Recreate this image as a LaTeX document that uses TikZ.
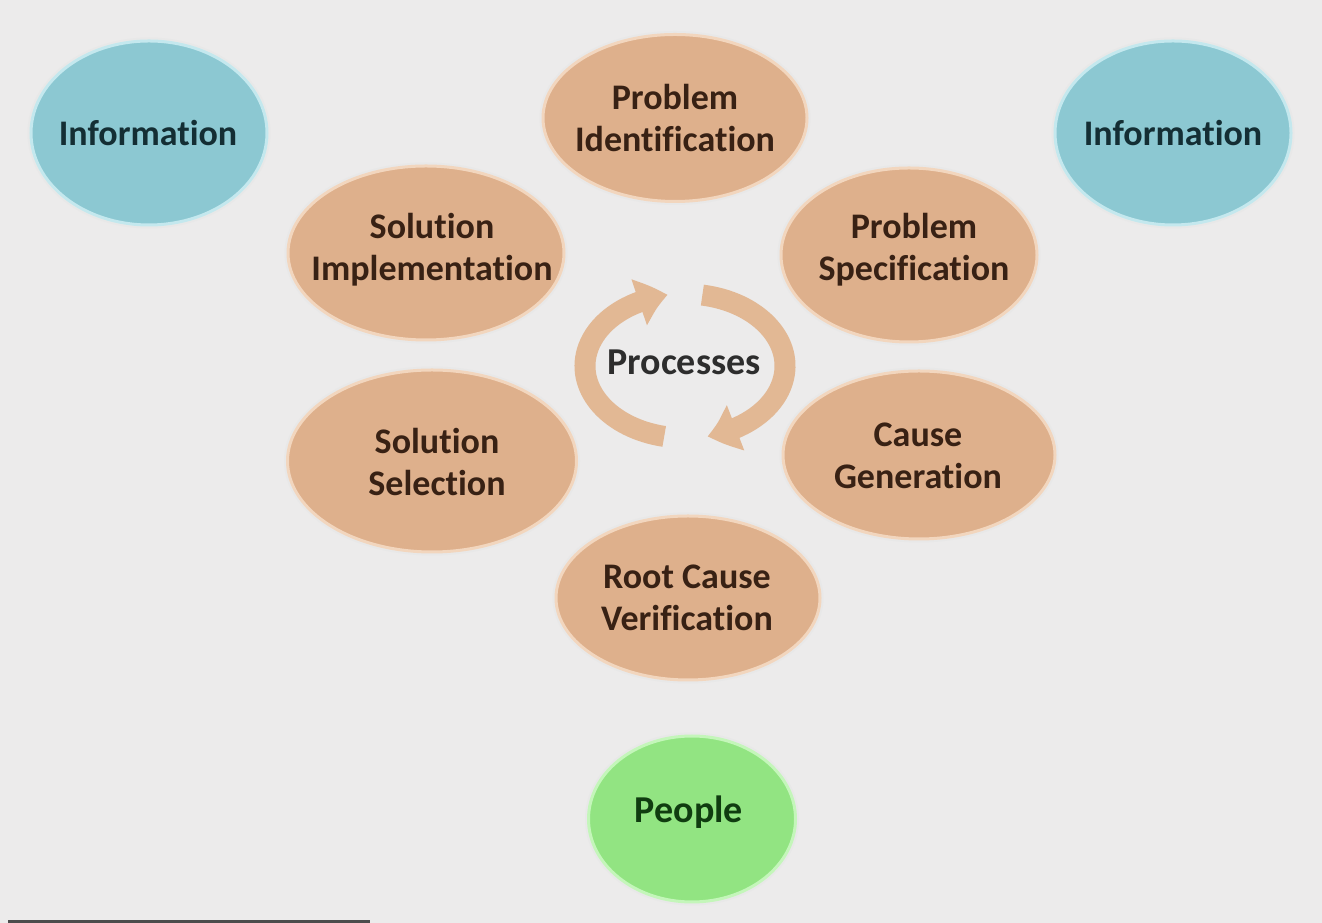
\documentclass[tikz,border=0pt]{standalone}
\usepackage{fontspec}
\setmainfont{Carlito}[Ligatures=NoCommon]
\usetikzlibrary{shapes.geometric,arrows.meta,bending}
\definecolor{bg}{RGB}{236,235,235}
\definecolor{tanfill}{RGB}{222,176,140}
\definecolor{tanrim}{RGB}{242,214,190}
\definecolor{tantext}{RGB}{56,33,20}
\definecolor{bluefill}{RGB}{140,200,210}
\definecolor{bluerim}{RGB}{196,232,238}
\definecolor{bluetext}{RGB}{20,46,52}
\definecolor{greenfill}{RGB}{146,228,130}
\definecolor{greenrim}{RGB}{196,246,186}
\definecolor{greentext}{RGB}{16,60,16}
\definecolor{arrowc}{RGB}{226,184,148}
\definecolor{proctext}{RGB}{45,45,45}
\begin{document}
\begin{tikzpicture}[x=1pt,y=1pt,
  bubble/.style={ellipse, inner sep=0pt, line width=3pt,
    preaction={draw=black!9, line width=7pt}},
  procbubble/.style={bubble, fill=tanfill, draw=tanrim},
  infobubble/.style={bubble, fill=bluefill, draw=bluerim},
  peoplebubble/.style={bubble, fill=greenfill, draw=greenrim},
  bubbletext/.style={align=center, inner sep=0pt,
    font=\bfseries\fontsize{36}{42}\selectfont},
  proclabel/.style={bubbletext, text=tantext},
  infolabel/.style={bubbletext, text=bluetext},
  peoplelabel/.style={bubbletext, text=greentext, font=\bfseries\fontsize{38}{44}\selectfont},
  cyclearrow/.style={draw=arrowc, line width=21pt,
    -{Triangle[width=46pt,length=30pt,bend]}}
]
\fill[bg] (0,0) rectangle (1322,923);
\useasboundingbox (0,0) rectangle (1322,923);

% ellipses
\node[infobubble, minimum width=236pt, minimum height=184pt] (info1) at (149,790) {};
\node[infobubble, minimum width=236pt, minimum height=184pt] (info2) at (1173,790) {};
\node[procbubble, minimum width=264pt, minimum height=167pt] (pid) at (675,805) {};
\node[procbubble, minimum width=276pt, minimum height=174pt] (simp) at (426,670) {};
\node[procbubble, minimum width=256pt, minimum height=174pt] (pspec) at (909,668) {};
\node[procbubble, minimum width=289pt, minimum height=182pt] (ssel) at (432,462) {};
\node[procbubble, minimum width=272pt, minimum height=168pt] (cgen) at (919,468) {};
\node[procbubble, minimum width=264pt, minimum height=164pt] (rcv) at (688,325) {};
\node[peoplebubble, minimum width=207pt, minimum height=166pt] (people) at (692,104) {};

% texts
\node[infolabel] (info1t) at (148,790) {Information};
\node[infolabel] (info2t) at (1173,790) {Information};
\node[proclabel] (pidt) at (675,805) {Problem\\Identification};
\node[proclabel] (simpt) at (432,673) {Solution\\Implementation};
\node[proclabel] (pspect) at (914,673) {Problem\\Specification};
\node[proclabel] (sselt) at (437,461) {Solution\\Selection};
\node[proclabel] (cgent) at (918,467) {Cause\\Generation};
\node[proclabel] (rcvt) at (687,325) {Root Cause\\Verification};
\node[peoplelabel] (peoplet) at (689,111) {People};

\node[font=\bfseries\fontsize{38}{44}\selectfont, text=proctext] (proc) at (684,561) {Processes};

\coordinate (cyc) at (685,557);
\draw[cyclearrow] ([shift={(258:100pt and 72pt)}]cyc) arc[start angle=258, end angle=100, x radius=100pt, y radius=72pt];
\draw[cyclearrow] ([shift={(80:100pt and 72pt)}]cyc) arc[start angle=80, end angle=-77, x radius=100pt, y radius=72pt];

\fill[black!70] (8,0) rectangle (370,2.5);
\end{tikzpicture}
\end{document}
